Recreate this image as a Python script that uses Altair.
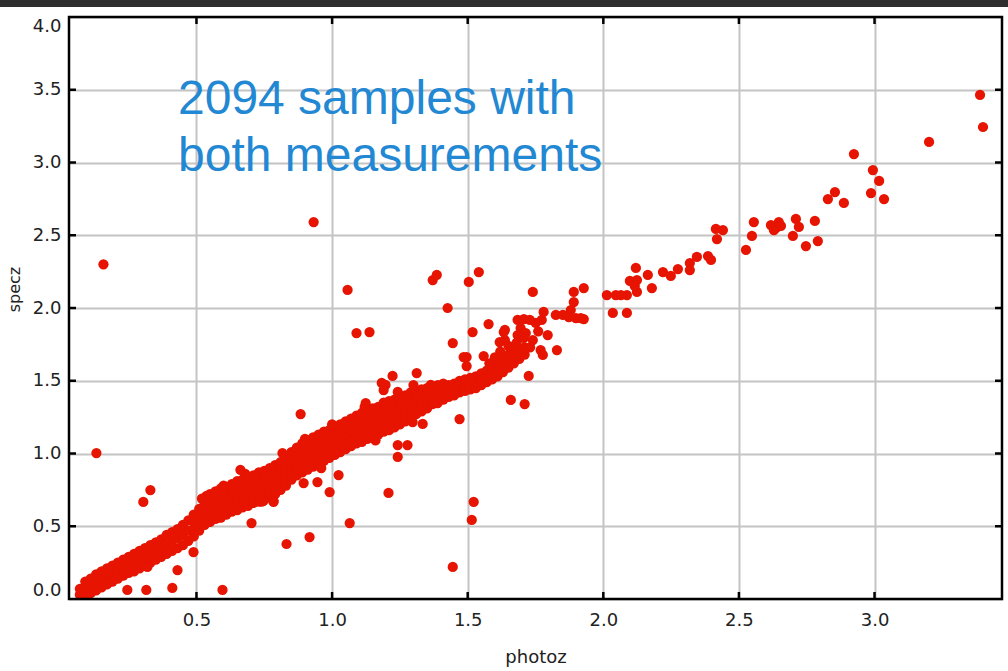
import altair as alt
import pandas as pd

# ---------------- data ----------------
# dense ridge of points: (photoz, [specz values stacked at that photoz])
band_columns = [
    (0.07, [0.03, 0.07]),
    (0.09, [0.03, 0.08, 0.12]),
    (0.11, [0.04, 0.09, 0.14]),
    (0.13, [0.06, 0.11, 0.17]),
    (0.15, [0.08, 0.14, 0.19]),
    (0.17, [0.10, 0.16, 0.21]),
    (0.19, [0.12, 0.18, 0.23]),
    (0.21, [0.14, 0.20, 0.25]),
    (0.23, [0.16, 0.21, 0.27]),
    (0.25, [0.18, 0.23, 0.29]),
    (0.27, [0.19, 0.25, 0.31]),
    (0.29, [0.21, 0.27, 0.33]),
    (0.31, [0.23, 0.29, 0.35]),
    (0.33, [0.25, 0.31, 0.37]),
    (0.35, [0.27, 0.33, 0.39]),
    (0.37, [0.29, 0.35, 0.41]),
    (0.39, [0.31, 0.37, 0.44]),
    (0.41, [0.33, 0.40, 0.46]),
    (0.43, [0.35, 0.42, 0.48]),
    (0.45, [0.37, 0.44, 0.51]),
    (0.47, [0.40, 0.47, 0.54]),
    (0.49, [0.43, 0.48, 0.53, 0.58]),
    (0.51, [0.47, 0.52, 0.57, 0.62]),
    (0.53, [0.51, 0.56, 0.61, 0.66]),
    (0.55, [0.53, 0.58, 0.63, 0.68, 0.72]),
    (0.57, [0.55, 0.60, 0.65, 0.70, 0.74]),
    (0.59, [0.56, 0.61, 0.66, 0.71, 0.76]),
    (0.61, [0.58, 0.63, 0.68, 0.73, 0.77]),
    (0.63, [0.60, 0.65, 0.70, 0.75, 0.79]),
    (0.65, [0.61, 0.66, 0.71, 0.76, 0.81]),
    (0.67, [0.63, 0.68, 0.73, 0.78, 0.82]),
    (0.69, [0.64, 0.69, 0.74, 0.79, 0.84]),
    (0.71, [0.66, 0.71, 0.76, 0.81, 0.85]),
    (0.73, [0.67, 0.72, 0.77, 0.82, 0.87]),
    (0.75, [0.69, 0.74, 0.79, 0.84, 0.88]),
    (0.77, [0.70, 0.75, 0.80, 0.85, 0.90]),
    (0.79, [0.72, 0.77, 0.82, 0.87, 0.92]),
    (0.81, [0.75, 0.80, 0.85, 0.90, 0.94]),
    (0.83, [0.78, 0.83, 0.88, 0.93, 0.97]),
    (0.85, [0.82, 0.87, 0.92, 0.97, 1.01]),
    (0.87, [0.85, 0.90, 0.95, 1.00, 1.04]),
    (0.89, [0.87, 0.92, 0.97, 1.02, 1.07]),
    (0.91, [0.89, 0.94, 0.99, 1.04, 1.09]),
    (0.93, [0.91, 0.96, 1.01, 1.06, 1.11]),
    (0.95, [0.93, 0.98, 1.03, 1.08, 1.13]),
    (0.97, [0.95, 1.00, 1.05, 1.10, 1.15]),
    (0.99, [0.97, 1.02, 1.07, 1.12, 1.16]),
    (1.01, [0.99, 1.04, 1.09, 1.14, 1.18]),
    (1.03, [1.01, 1.06, 1.11, 1.16, 1.20]),
    (1.05, [1.03, 1.08, 1.13, 1.18, 1.22]),
    (1.07, [1.05, 1.10, 1.15, 1.20, 1.24]),
    (1.09, [1.07, 1.12, 1.17, 1.22, 1.26]),
    (1.11, [1.08, 1.13, 1.18, 1.23, 1.28]),
    (1.13, [1.10, 1.15, 1.20, 1.25, 1.29]),
    (1.15, [1.11, 1.16, 1.21, 1.26, 1.31]),
    (1.17, [1.13, 1.18, 1.23, 1.28, 1.32]),
    (1.19, [1.15, 1.20, 1.25, 1.30, 1.35]),
    (1.21, [1.16, 1.21, 1.26, 1.31, 1.36]),
    (1.23, [1.18, 1.23, 1.28, 1.33, 1.37]),
    (1.25, [1.20, 1.25, 1.30, 1.34, 1.38]),
    (1.27, [1.22, 1.27, 1.32, 1.36, 1.40]),
    (1.29, [1.25, 1.29, 1.33, 1.38, 1.42]),
    (1.31, [1.27, 1.31, 1.35, 1.39, 1.43]),
    (1.33, [1.29, 1.33, 1.37, 1.41, 1.44]),
    (1.35, [1.31, 1.35, 1.39, 1.42, 1.45]),
    (1.37, [1.34, 1.38, 1.42, 1.46]),
    (1.39, [1.36, 1.40, 1.44, 1.47]),
    (1.41, [1.37, 1.41, 1.45, 1.48]),
    (1.43, [1.39, 1.43, 1.47]),
    (1.45, [1.40, 1.44, 1.48]),
    (1.47, [1.42, 1.46, 1.50]),
    (1.49, [1.43, 1.47, 1.51]),
    (1.51, [1.44, 1.48, 1.52]),
    (1.53, [1.45, 1.49, 1.53]),
    (1.55, [1.47, 1.51, 1.55]),
    (1.57, [1.49, 1.53, 1.57]),
    (1.59, [1.51, 1.55, 1.60]),
    (1.61, [1.53, 1.58, 1.62]),
    (1.63, [1.56, 1.61, 1.65]),
    (1.65, [1.59, 1.64, 1.68]),
    (1.67, [1.62, 1.67, 1.71]),
    (1.69, [1.65, 1.70]),
    (1.71, [1.68, 1.73]),
    (1.73, [1.73]),
]

# individual, sparser points
scatter_photoz = [
    0.157, 0.131, 0.932, 1.057, 1.090, 1.138, 1.371, 1.386, 1.504, 1.541,
    0.330, 0.304, 0.662, 0.884, 0.817, 1.065, 0.703, 0.832, 0.917, 0.991,
    1.208, 1.445, 1.522, 1.515, 0.245, 0.315, 0.411, 0.596, 0.489, 0.430,
    0.205, 1.024, 1.242, 1.242, 1.278, 1.334, 1.470, 1.124, 1.183, 1.223,
    1.312, 1.197, 1.445, 1.496, 1.496, 1.559, 1.518, 1.426, 1.740, 1.577,
    1.637, 1.637, 1.659, 1.710, 1.725, 1.769, 1.829, 1.795, 1.777, 1.928,
    1.891, 1.891, 1.880, 1.825, 1.851, 1.873, 1.899, 1.917, 1.780, 1.773,
    1.751, 1.684, 1.707, 1.729, 1.695, 1.714, 2.013, 2.046, 2.065, 2.087,
    2.035, 2.087, 2.098, 2.120, 2.124, 2.124, 2.116, 2.179, 2.164, 2.220,
    2.249, 2.275, 2.319, 2.319, 2.345, 2.386, 2.397, 2.415, 2.441, 2.419,
    2.526, 2.548, 2.555, 2.618, 2.637, 2.647, 2.629, 2.655, 2.710, 2.721,
    2.699, 2.747, 2.791, 2.780, 2.828, 2.854, 2.887, 2.924, 2.994, 3.017,
    2.987, 3.035, 3.201, 3.389, 3.400,
    0.537, 0.747, 0.784, 0.319, 0.172, 0.895, 0.946, 0.784, 1.297, 1.389,
    1.485, 1.364, 1.633, 1.684, 1.618, 1.707, 1.928, 1.190, 1.242,
    1.58, 1.60, 1.62, 1.65, 1.68, 1.70, 1.74, 1.76,
    0.52, 0.60, 0.68, 0.90, 1.00, 1.12, 1.30, 0.58, 0.74, 0.96, 1.16,
]
scatter_specz = [
    2.300, 1.003, 2.591, 2.124, 1.828, 1.835, 2.192, 2.227, 2.179, 2.247,
    0.749, 0.667, 0.887, 1.271, 1.003, 0.522, 0.522, 0.378, 0.426, 0.735,
    0.729, 0.220, 0.667, 0.543, 0.062, 0.062, 0.076, 0.062, 0.323, 0.199,
    0.144, 0.852, 0.976, 1.058, 1.058, 1.203, 1.237, 1.347, 1.485, 1.533,
    1.553, 1.471, 1.759, 1.663, 1.601, 1.670, 1.835, 2.000, 2.110, 1.890,
    1.849, 1.780, 1.368, 1.340, 1.533, 1.711, 1.711, 1.814, 1.677, 2.137,
    2.041, 2.110, 1.986, 1.952, 1.952, 1.938, 1.931, 1.931, 1.973, 1.918,
    1.897, 1.918, 1.924, 1.918, 1.862, 1.828, 2.089, 2.089, 2.089, 2.089,
    1.966, 1.966, 2.186, 2.275, 2.192, 2.110, 2.151, 2.137, 2.227, 2.247,
    2.220, 2.268, 2.309, 2.261, 2.351, 2.357, 2.330, 2.543, 2.536, 2.474,
    2.399, 2.495, 2.591, 2.570, 2.550, 2.591, 2.536, 2.564, 2.612, 2.557,
    2.495, 2.426, 2.460, 2.598, 2.749, 2.797, 2.722, 3.058, 2.948, 2.873,
    2.790, 2.749, 3.141, 3.464, 3.244,
    0.708, 0.674, 0.674, 0.220, 0.110, 0.797, 0.804, 0.667, 1.216, 1.347,
    1.663, 1.471, 1.835, 1.814, 1.766, 1.794, 1.924, 1.436, 1.423,
    1.62, 1.66, 1.70, 1.74, 1.76, 1.80, 1.78, 1.84,
    0.69, 0.78, 0.86, 1.10, 1.20, 1.32, 1.47, 0.56, 0.67, 0.90, 1.09,
]

x_tick_values = [0.5, 1.0, 1.5, 2.0, 2.5, 3.0]
y_label_values = [0.0, 0.5, 1.0, 1.5, 2.0, 2.5, 3.0, 3.5, 4.0]
y_tick_values = [0.5, 1.0, 1.5, 2.0, 2.5, 3.0, 3.5]
annotation_lines = ["2094 samples with", "both measurements"]
x_title = "photoz"
y_title = "specz"

# ---------------- build table ----------------
rows = [{"photoz": x, "specz": y} for x, ys in band_columns for y in ys]
rows += [{"photoz": x, "specz": y} for x, y in zip(scatter_photoz, scatter_specz)]
points = pd.DataFrame(rows)

W, H = 933, 582
RED = "#e61400"
GRID = "#c4c4c4"
TXT = "#222222"

x_scale = alt.Scale(domain=[0.03, 3.47], nice=False, zero=False)
y_scale = alt.Scale(domain=[0.0, 4.0], nice=False, zero=False)

x_axis = alt.Axis(
    values=x_tick_values, format=".1f", grid=True, gridColor=GRID, gridWidth=2,
    domain=False, ticks=False, tickSize=0,
    labelFont="DejaVu Sans", labelFontSize=18, labelColor=TXT, labelPadding=12,
    title=x_title, titleFont="DejaVu Sans", titleFontSize=18, titleFontWeight="normal",
    titleColor=TXT, titleY=58, titleBaseline="middle",
)
y_axis = alt.Axis(
    values=y_label_values, format=".1f", grid=True, gridColor=GRID, gridWidth=2,
    domain=False, ticks=False, tickSize=0, labelFlush=True, labelFlushOffset=0,
    labelFont="DejaVu Sans", labelFontSize=18, labelColor=TXT, labelPadding=8,
    title=y_title, titleFont="DejaVu Sans", titleFontSize=16, titleFontWeight="normal",
    titleColor=TXT, titleX=-55, titleY=272, titleAlign="center", titleBaseline="middle",
)

X = alt.X("photoz:Q", scale=x_scale, axis=x_axis)
Y = alt.Y("specz:Q", scale=y_scale, axis=y_axis)

one = pd.DataFrame({"k": [0]})

top_band = alt.Chart(one).mark_rect(color="#2e2e2e").encode(
    x=alt.value(-69), x2=alt.value(W + 6), y=alt.value(-17), y2=alt.value(-10)
)

dots = alt.Chart(points).mark_circle(size=105, color=RED, opacity=1).encode(x=X, y=Y)

frame = alt.Chart(one).mark_rect(filled=False, stroke="black", strokeWidth=2.5).encode(
    x=alt.value(0), x2=alt.value(W), y=alt.value(0), y2=alt.value(H)
)

xt = pd.DataFrame({"photoz": x_tick_values})
yt = pd.DataFrame({"specz": y_tick_values})
tick_bottom = alt.Chart(xt).mark_rule(color="black", strokeWidth=2.5).encode(
    x=X, y=alt.value(H), y2=alt.value(H - 7))
tick_top = alt.Chart(xt).mark_rule(color="black", strokeWidth=2.5).encode(
    x=X, y=alt.value(0), y2=alt.value(7))
tick_left = alt.Chart(yt).mark_rule(color="black", strokeWidth=2.5).encode(
    y=Y, x=alt.value(0), x2=alt.value(7))
tick_right = alt.Chart(yt).mark_rule(color="black", strokeWidth=2.5).encode(
    y=Y, x=alt.value(W), x2=alt.value(W - 7))

note = alt.Chart(one).mark_text(
    align="left", baseline="alphabetic", fontSize=48, font="Liberation Sans",
    color="#2388d3", lineHeight=57,
).encode(x=alt.value(109), y=alt.value(97), text=alt.value(annotation_lines))

chart = alt.layer(
    top_band, dots, frame, tick_bottom, tick_top, tick_left, tick_right, note
).properties(
    width=W, height=H,
    autosize=alt.AutoSizeParams(type="none"),
    padding={"left": 69, "top": 17, "right": 6, "bottom": 72},
    background="white",
).configure_view(stroke=None)

chart.save("out.html", embed_options={"renderer": "svg", "actions": False})
